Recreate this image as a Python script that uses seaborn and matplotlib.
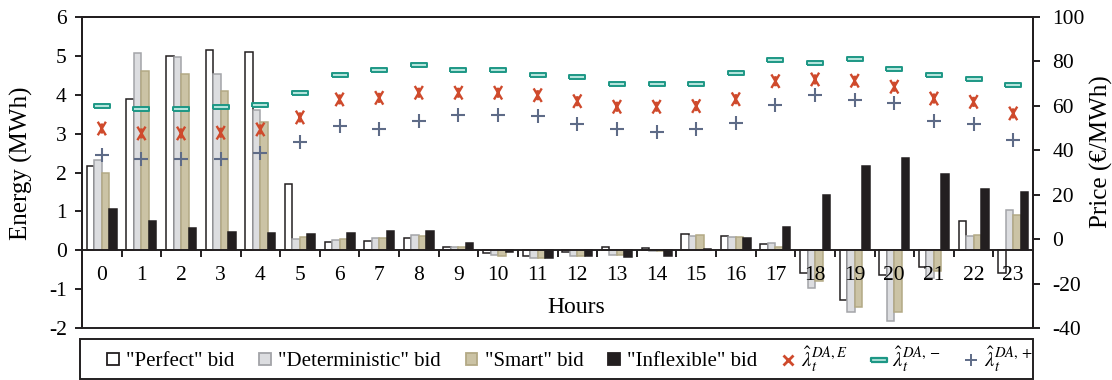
import numpy as np
import pandas as pd
import matplotlib
matplotlib.use("Agg")
import matplotlib.pyplot as plt
from matplotlib.lines import Line2D
from matplotlib.patches import Rectangle
from matplotlib.path import Path
import seaborn as sns

# Data
hours = list(range(24))
perfect = [2.16, 3.90, 5.00, 5.16, 5.10, 1.70, 0.21, 0.24, 0.31, 0.09, -0.08, -0.14,
           -0.05, 0.08, 0.05, 0.41, 0.37, 0.16, -0.58, -1.29, -0.64, -0.43, 0.75, -0.58]
deterministic = [2.31, 5.08, 4.97, 4.54, 3.62, 0.30, 0.27, 0.32, 0.38, 0.08, -0.13, -0.20,
                 -0.16, -0.12, -0.03, 0.37, 0.33, 0.19, -0.97, -1.59, -1.82, -0.71, 0.36, 1.03]
smart = [1.99, 4.60, 4.54, 4.09, 3.31, 0.33, 0.28, 0.31, 0.36, 0.08, -0.14, -0.20,
         -0.16, -0.12, -0.03, 0.38, 0.34, 0.09, -0.80, -1.47, -1.60, -0.53, 0.40, 0.90]
inflexible = [1.05, 0.75, 0.57, 0.48, 0.44, 0.43, 0.45, 0.50, 0.50, 0.18, -0.05, -0.20,
              -0.16, -0.18, -0.15, 0.02, 0.32, 0.60, 1.43, 2.16, 2.38, 1.95, 1.58, 1.50]

price_e = [49.8, 47.6, 47.6, 47.9, 49.4, 54.8, 62.9, 63.6, 65.9, 65.9, 65.9, 64.8,
           62.1, 59.6, 59.6, 59.9, 63.0, 71.1, 71.9, 71.3, 68.6, 63.3, 61.8, 56.6]
price_minus = [60.0, 58.8, 58.8, 59.7, 60.2, 66.0, 74.1, 76.3, 78.3, 76.0, 76.0, 74.1,
               72.8, 69.8, 69.8, 69.8, 74.6, 80.5, 79.3, 81.3, 76.8, 73.8, 72.3, 69.3]
price_plus = [37.9, 35.9, 35.9, 35.9, 38.9, 43.6, 50.9, 49.4, 53.1, 55.8, 55.8, 55.4,
              51.8, 49.4, 48.4, 49.4, 52.4, 60.6, 64.8, 62.6, 61.1, 53.3, 51.8, 44.6]

bid_names = ['"Perfect" bid', '"Deterministic" bid', '"Smart" bid', '"Inflexible" bid']
bar_faces = ["#ffffff", "#dcdde0", "#cbc3a5", "#231f20"]
bar_edges = ["#231f20", "#a3a4a8", "#b3a985", "#231f20"]

df = pd.DataFrame({"hour": hours * 4,
                   "energy": perfect + deterministic + smart + inflexible,
                   "bid": np.repeat(bid_names, 24)})

plt.rcParams["font.family"] = ["Liberation Serif", "DejaVu Serif"]
plt.rcParams["mathtext.fontset"] = "stix"
plt.rcParams["axes.unicode_minus"] = False

dark = "#231f20"
fig = plt.figure(figsize=(11.12, 3.8), dpi=100)
ax = fig.add_axes([82 / 1112, 52 / 380, 951 / 1112, 311 / 380])

sns.barplot(data=df, x="hour", y="energy", hue="bid", hue_order=bid_names,
            palette=bar_faces, width=0.76, ax=ax, legend=False, saturation=1)
for cont, ec in zip(ax.containers, bar_edges):
    for bar in cont:
        bar.set_edgecolor(ec)
        bar.set_linewidth(1.1)

ax.set_ylim(-2, 6)
ax.set_xlim(-0.5, 23.5)
ax.set_yticks(range(-2, 7))
ax.set_xticks(hours)
ax.set_xticks(np.arange(-0.5, 24, 1), minor=True)
ax.tick_params(axis="x", which="major", length=0, pad=11, labelsize=15.5)
ax.tick_params(axis="x", which="minor", length=5, width=1.4, direction="out", color=dark)
ax.tick_params(axis="y", length=5, width=1.4, direction="out", pad=6, labelsize=15.5, color=dark)
ax.spines["bottom"].set_position(("data", 0))
for s in ax.spines.values():
    s.set_linewidth(1.4)
    s.set_color(dark)

ax.set_xlabel("Hours", fontsize=17)
ax.xaxis.set_label_coords(0.52, 0.10)
ax.set_ylabel("Energy (MWh)", fontsize=18)
ax.yaxis.set_label_coords(-0.052, 0.53)

# prices on the right axis
ax2 = ax.twinx()
star = Path([(-0.6, -1), (0.6, 1), (-0.6, 1), (0.6, -1), (0, -0.75), (0, 0.75)],
            [Path.MOVETO, Path.LINETO, Path.MOVETO, Path.LINETO, Path.MOVETO, Path.LINETO])
dash = [(-1, -0.24), (1, -0.24), (1, 0.24), (-1, 0.24), (-1, -0.24)]
c_e, c_m, c_p = "#cf4a2c", "#1d9785", "#5e6b87"
sns.scatterplot(x=hours, y=price_e, marker=star, s=95, facecolor="none", edgecolor=c_e,
                linewidth=1.7, ax=ax2)
sns.scatterplot(x=hours, y=price_minus, marker=dash, s=125, facecolor="#b5e4dc",
                edgecolor=c_m, linewidth=1.4, ax=ax2)
sns.scatterplot(x=hours, y=price_plus, marker="+", s=110, color=c_p, linewidth=1.5, ax=ax2)
ax2.set_ylim(-40, 100)
ax2.set_yticks(range(-40, 101, 20))
ax2.set_xlim(-0.5, 23.5)
ax2.tick_params(axis="y", length=5, width=1.4, direction="out", pad=9, labelsize=15.5, color=dark)
for s in ax2.spines.values():
    s.set_linewidth(1.4)
    s.set_color(dark)
ax2.set_ylabel("Price (€/MWh)", fontsize=18)
ax2.yaxis.set_label_coords(1.06, 0.566)

# legend below the plot
handles = [Rectangle((0, 0), 1, 1, facecolor=f, edgecolor=e, linewidth=1.3)
           for f, e in zip(bar_faces, bar_edges)]
handles += [
    Line2D([], [], ls="none", marker="x", ms=7, color=c_e, mew=2),
    Line2D([], [], ls="none", marker=dash, ms=11, mfc="#b5e4dc", mec=c_m, mew=1.6),
    Line2D([], [], ls="none", marker="+", ms=9, color=c_p, mew=1.4),
]
labels = bid_names + [r"$\hat{\lambda}_t^{DA,E}$", r"$\hat{\lambda}_t^{DA,-}$", r"$\hat{\lambda}_t^{DA,+}$"]
fig.legend(handles, labels, loc="center", bbox_to_anchor=(570 / 1112, 1 - 359 / 380),
           ncol=7, frameon=False, fontsize=15, handlelength=0.55, handleheight=0.55,
           handletextpad=0.35, columnspacing=1.2)
fig.patches.append(Rectangle((80 / 1112, 1 - 379 / 380), (1033 - 80) / 1112, 40 / 380,
                             transform=fig.transFigure, fill=False, edgecolor=dark, lw=1.4))

fig.savefig("out.png", dpi=100)
